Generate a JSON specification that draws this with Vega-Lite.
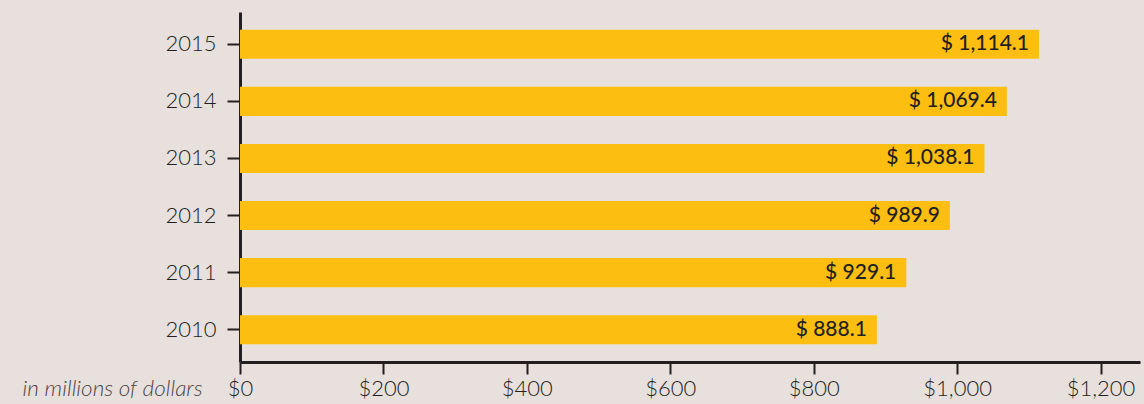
{
  "$schema": "https://vega.github.io/schema/vega-lite/v6.json",
  "autosize": "none",
  "width": 900,
  "height": 350,
  "padding": {"left": 240, "top": 12, "right": 4, "bottom": 42},
  "background": "#e7e0dc",
  "config": {"view": {"stroke": null}, "font": "Lato"},
  "data": {"values": [
    {"year": "2015", "value": 1114.1},
    {"year": "2014", "value": 1069.4},
    {"year": "2013", "value": 1038.1},
    {"year": "2012", "value": 989.9},
    {"year": "2011", "value": 929.1},
    {"year": "2010", "value": 888.1}
  ]},
  "transform": [{"calculate": "'$ ' + format(datum.value, ',.1f')", "as": "label"}],
  "encoding": {
    "y": {
      "field": "year", "type": "ordinal", "sort": "descending",
      "scale": {"paddingInner": 0.49, "paddingOuter": 0.31},
      "axis": {
        "title": null, "domainColor": "#231f20", "domainWidth": 3,
        "tickColor": "#231f20", "tickWidth": 2, "tickSize": 13,
        "labelFontSize": 22, "labelFontWeight": 300, "labelColor": "#231f20", "labelPadding": 11,
        "labelFont": "Lato"
      }
    },
    "x": {
      "field": "value", "type": "quantitative",
      "scale": {"domain": [0, 1255], "nice": false, "zero": true},
      "axis": {
        "values": [0, 200, 400, 600, 800, 1000, 1200],
        "labelExpr": "'$' + format(datum.value, ',')",
        "grid": false, "domainColor": "#231f20", "domainWidth": 3,
        "tickColor": "#231f20", "tickWidth": 2, "tickSize": 12,
        "labelFontSize": 22, "labelFontWeight": 300, "labelColor": "#231f20", "labelPadding": 4,
        "labelFlush": false,
        "title": "in millions of dollars",
        "titleFontStyle": "italic", "titleFontWeight": 300,
        "titleFontSize": 22.5, "titleColor": "#4a4646",
        "titleAlign": "right", "titleAnchor": "start",
        "titleX": -38, "titleY": 38, "titleBaseline": "bottom"
      }
    }
  },
  "layer": [
    {"mark": {"type": "bar", "color": "#fdbe12"}},
    {
      "mark": {"type": "text", "align": "right", "baseline": "middle", "dx": -10, "fontSize": 21, "fontWeight": 500, "color": "#231f20"},
      "encoding": {"text": {"field": "label"}}
    }
  ]
}
